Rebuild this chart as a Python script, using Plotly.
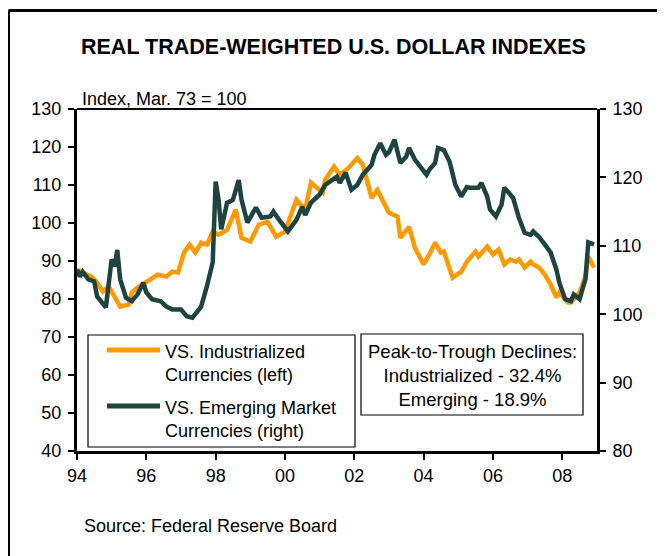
import plotly.graph_objects as go

# ---------------- data ----------------
ind_dates = ["1994-01","1994-06","1994-08","1994-10","1994-12","1995-04","1995-07","1995-08",
             "1995-10","1996-01","1996-05","1996-08","1996-10","1996-12","1997-02","1997-04",
             "1997-06","1997-08","1997-10","1997-12","1998-02","1998-05","1998-08","1998-10",
             "1999-01","1999-04","1999-07","1999-10","2000-01","2000-05","2000-08","2000-10",
             "2001-02","2001-03","2001-06","2001-08","2001-11","2002-02","2002-04","2002-07",
             "2002-09","2003-01","2003-04","2003-05","2003-08","2003-10","2004-01","2004-03",
             "2004-05","2004-07","2004-08","2004-11","2005-02","2005-04","2005-07","2005-08",
             "2005-11","2006-01","2006-03","2006-05","2006-07","2006-09","2006-10","2006-12",
             "2007-02","2007-03","2007-05","2007-07","2007-09","2007-11","2007-12","2008-03",
             "2008-04","2008-07","2008-09","2008-10","2008-12"]
ind_values = [87.7,85.9,84.3,82.0,83.3,78.0,78.6,81.7,
              83.0,84.6,86.4,85.9,87.2,87.0,92.2,94.3,
              92.2,94.8,94.3,97.7,96.9,98.2,103.5,96.1,
              95.1,99.6,100.3,96.4,97.7,106.1,103.5,110.6,
              108.0,111.4,114.8,112.7,114.5,117.1,115.3,106.6,
              108.7,102.7,101.7,96.1,99.0,93.5,89.1,91.7,
              94.8,92.2,92.5,85.6,87.2,89.8,92.5,91.2,
              93.8,91.7,93.0,89.1,90.4,89.8,90.4,88.3,
              89.8,89.1,88.3,86.4,83.8,80.4,81.7,79.1,
              79.1,81.7,85.9,91.2,88.3]

em_dates = ["1994-01","1994-02","1994-03","1994-05","1994-07","1994-08","1994-11","1995-01",
            "1995-02","1995-03","1995-04","1995-06","1995-08","1995-10","1995-12","1996-01",
            "1996-03","1996-06","1996-08","1996-10","1997-01","1997-03","1997-05","1997-08",
            "1997-10","1997-12","1998-01","1998-02","1998-03","1998-05","1998-07","1998-09",
            "1998-10","1998-12","1999-03","1999-05","1999-08","1999-09","1999-11","2000-02",
            "2000-05","2000-07","2000-08","2000-10","2001-01","2001-03","2001-07","2001-08",
            "2001-10","2001-12","2002-02","2002-04","2002-07","2002-08","2002-10","2002-12",
            "2003-01","2003-03","2003-05","2003-07","2003-08","2003-10","2003-12","2004-02",
            "2004-03","2004-05","2004-06","2004-08","2004-10","2004-12","2005-02","2005-04",
            "2005-05","2005-08","2005-09","2005-11","2005-12","2006-02","2006-04","2006-05",
            "2006-08","2006-10","2006-12","2007-02","2007-03","2007-05","2007-07","2007-09",
            "2007-11","2007-12","2008-02","2008-04","2008-05","2008-07","2008-09","2008-10",
            "2008-12"]
em_values = [106.5,105.5,106.2,105.1,104.8,102.6,101.0,108.0,
             107.0,109.4,105.1,102.4,101.9,102.9,104.6,103.2,
             102.2,101.9,101.1,100.7,100.7,99.7,99.5,101.1,
             104.1,107.6,119.4,116.7,112.4,116.3,116.7,119.6,
             116.7,113.4,115.6,114.1,114.3,115.0,113.8,112.1,
             113.8,115.7,114.5,116.3,117.5,118.9,120.1,119.2,
             120.7,118.2,118.9,120.4,121.8,123.3,125.0,123.3,
             123.7,125.5,122.1,123.0,124.3,122.6,121.5,120.4,
             121.1,122.1,124.3,124.0,122.3,118.9,117.2,118.6,
             118.5,118.5,119.2,117.2,115.3,114.3,116.0,118.5,
             117.0,114.1,111.9,111.6,112.1,111.3,110.2,109.0,
             106.5,104.6,102.2,101.9,102.9,102.2,105.1,110.5,
             110.2]

left_ticks = [40, 50, 60, 70, 80, 90, 100, 110, 120, 130]
right_ticks = [80, 90, 100, 110, 120, 130]

title_text = "REAL TRADE-WEIGHTED U.S. DOLLAR INDEXES"
unit_text = "Index, Mar. 73 = 100"
source_text = "Source: Federal Reserve Board"
legend_labels = ["VS. Industrialized<br>Currencies (left)",
                 "VS. Emerging Market<br>Currencies (right)"]
box_text = "Peak-to-Trough Declines:<br>Industrialized - 32.4%<br>Emerging - 18.9%"

# ---------------- styling ----------------
ORANGE = "#FF9900"
DARK = "#1F443F"
FONT = "Arial, Liberation Sans, sans-serif"
FS = 18
OFF = 8                        # page body margin
W_FIG, H_FIG = 665 - OFF, 556 - OFF
# plot-area edges in screen pixels
SL, SR, ST, SB = 77, 597, 109, 451
L, R, T, B = SL - OFF, SR - OFF, ST - OFF, SB - OFF


def px(x):
    return (x - OFF - L) / (R - L)


def py(y):
    return (B - (y - OFF)) / (B - T)


fig = go.Figure()
fig.add_trace(go.Scatter(x=ind_dates, y=ind_values, mode="lines",
                         line=dict(color=ORANGE, width=4.5), name="ind",
                         showlegend=False, yaxis="y"))
fig.add_trace(go.Scatter(x=em_dates, y=em_values, mode="lines",
                         line=dict(color=DARK, width=4.5), name="em",
                         showlegend=False, yaxis="y2"))

shapes = []
# outer frame (left and top edges visible)
shapes.append(dict(type="line", xref="paper", yref="paper",
                   x0=px(8.5), y0=py(10.5), x1=px(700), y1=py(10.5),
                   line=dict(color="black", width=3)))
shapes.append(dict(type="line", xref="paper", yref="paper",
                   x0=px(8.5), y0=py(10.5), x1=px(8.5), y1=py(600),
                   line=dict(color="black", width=3)))
# top border of plot area
shapes.append(dict(type="line", xref="paper", yref="paper",
                   x0=0, y0=1, x1=1, y1=1, line=dict(color="black", width=2)))
# legend box
shapes.append(dict(type="rect", xref="paper", yref="paper",
                   x0=px(88), y0=py(447), x1=px(355), y1=py(335),
                   line=dict(color="black", width=1.2), fillcolor="white"))
shapes.append(dict(type="line", xref="paper", yref="paper",
                   x0=px(107), y0=py(350), x1=px(160), y1=py(350),
                   line=dict(color=ORANGE, width=5)))
shapes.append(dict(type="line", xref="paper", yref="paper",
                   x0=px(107), y0=py(406), x1=px(160), y1=py(406),
                   line=dict(color=DARK, width=5)))
# text box
shapes.append(dict(type="rect", xref="paper", yref="paper",
                   x0=px(361), y0=py(415), x1=px(583), y1=py(334),
                   line=dict(color="black", width=1.2), fillcolor="white"))

annotations = [
    dict(text="<b>" + title_text + "</b>", xref="paper", yref="paper",
         x=px(333), y=py(47), xanchor="center", yanchor="middle",
         showarrow=False, font=dict(family=FONT, size=21.5, color="black")),
    dict(text=unit_text, xref="paper", yref="paper",
         x=px(80), y=py(99), xanchor="left", yanchor="middle",
         showarrow=False, font=dict(family=FONT, size=FS, color="black")),
    dict(text=source_text, xref="paper", yref="paper",
         x=px(82), y=py(526), xanchor="left", yanchor="middle",
         showarrow=False, font=dict(family=FONT, size=FS, color="black")),
    dict(text=legend_labels[0], xref="paper", yref="paper",
         x=px(163), y=py(363), xanchor="left", yanchor="middle", align="left",
         showarrow=False, font=dict(family=FONT, size=FS, color="black")),
    dict(text=legend_labels[1], xref="paper", yref="paper",
         x=px(163), y=py(419), xanchor="left", yanchor="middle", align="left",
         showarrow=False, font=dict(family=FONT, size=FS, color="black")),
    dict(text=box_text, xref="paper", yref="paper",
         x=px(472), y=py(375), xanchor="center", yanchor="middle", align="center",
         showarrow=False, font=dict(family=FONT, size=18.5, color="black")),
]

fig.update_layout(
    width=W_FIG, height=H_FIG,
    margin=dict(l=L, r=W_FIG - R, t=T, b=H_FIG - B, pad=0),
    paper_bgcolor="white", plot_bgcolor="white",
    font=dict(family=FONT, size=FS, color="black"),
    showlegend=False,
    shapes=shapes, annotations=annotations,
    xaxis=dict(type="date", range=["1994-01-01", "2009-01-01"],
               tickformat="%y", dtick="M24", tick0="1994-01-01",
               ticks="outside", ticklen=6, tickwidth=2, tickcolor="black",
               showline=True, linewidth=3, linecolor="black",
               showgrid=False, zeroline=False,
               tickfont=dict(family=FONT, size=FS)),
    yaxis=dict(range=[40, 130], tickvals=left_ticks,
               ticks="outside", ticklen=6, tickwidth=2, tickcolor="black",
               showline=True, linewidth=3, linecolor="black",
               showgrid=False, zeroline=False, ticklabelstandoff=3,
               tickfont=dict(family=FONT, size=FS)),
    yaxis2=dict(range=[80, 130], tickvals=right_ticks, overlaying="y", side="right",
                ticks="outside", ticklen=6, tickwidth=2, tickcolor="black",
                showline=True, linewidth=3, linecolor="black",
                showgrid=False, zeroline=False, ticklabelstandoff=3,
                tickfont=dict(family=FONT, size=FS)),
)

fig.write_html("out.html")
